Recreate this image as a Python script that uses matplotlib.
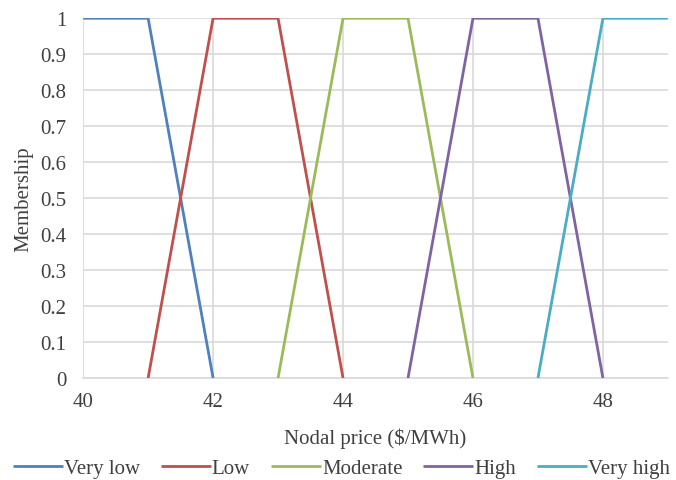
import matplotlib

matplotlib.use("Agg")
import matplotlib.pyplot as plt

# Membership function breakpoints (x = nodal price, y = membership)
very_low_x = [40, 41, 42]
very_low_y = [1, 1, 0]
low_x = [41, 42, 43, 44]
low_y = [0, 1, 1, 0]
moderate_x = [43, 44, 45, 46]
moderate_y = [0, 1, 1, 0]
high_x = [45, 46, 47, 48]
high_y = [0, 1, 1, 0]
very_high_x = [47, 48, 49]
very_high_y = [0, 1, 1]

labels = ["Very low", "Low", "Moderate", "High", "Very high"]
colors = ["#4F81BD", "#C0504D", "#9BBB59", "#8064A2", "#4BACC6"]

x_ticks = [40, 42, 44, 46, 48]
y_ticks = [i / 10 for i in range(11)]
y_ticklabels = ["0", "0.1", "0.2", "0.3", "0.4", "0.5", "0.6", "0.7", "0.8", "0.9", "1"]

plt.rcParams["font.family"] = ["Liberation Serif", "DejaVu Serif"]

fig = plt.figure(figsize=(6.76, 4.81), dpi=100)
ax = fig.add_axes([0.123, 0.212, 0.865, 0.748])

series = [
    (very_low_x, very_low_y),
    (low_x, low_y),
    (moderate_x, moderate_y),
    (high_x, high_y),
    (very_high_x, very_high_y),
]
for (xs, ys), lab, col in zip(series, labels, colors):
    ax.plot(xs, ys, color=col, lw=2.0, label=lab, solid_capstyle="butt", zorder=3)

ax.set_xlim(40, 49)
ax.set_ylim(0, 1)
ax.set_xticks(x_ticks)
ax.set_yticks(y_ticks)
ax.set_yticklabels(y_ticklabels)
ax.tick_params(length=0, labelsize=15, colors="#404040")
ax.tick_params(axis="y", pad=12)
ax.tick_params(axis="x", pad=10)
ax.grid(True, color="#D9D9D9", lw=1.2, zorder=0)
ax.set_axisbelow(True)
for side in ["top", "right", "left"]:
    ax.spines[side].set_visible(False)
ax.spines["bottom"].set_color("#D9D9D9")
ax.spines["bottom"].set_linewidth(1.2)

ax.set_xlabel("Nodal price ($/MWh)", fontsize=15, color="#404040", labelpad=12)
ax.set_ylabel("Membership", fontsize=15, color="#404040", labelpad=5)

leg = fig.legend(
    loc="lower center",
    bbox_to_anchor=(0.505, -0.035),
    ncol=5,
    frameon=False,
    fontsize=15,
    handlelength=2.4,
    handletextpad=0.05,
    columnspacing=1.0,
)
for t in leg.get_texts():
    t.set_color("#404040")

fig.savefig("out.png", dpi=100)
